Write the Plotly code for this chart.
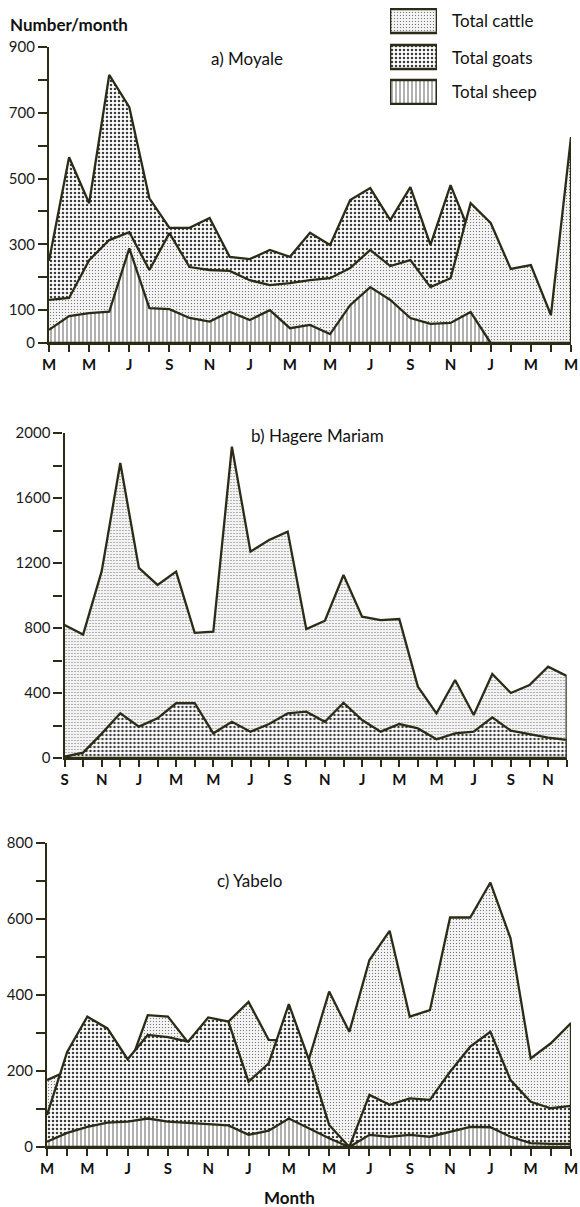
import plotly.graph_objects as go

# ---------------------------------------------------------------- data
# a) Moyale, monthly from March (year 1) to May (year 3)
moyale_ticks = ["M", "M", "J", "S", "N", "J", "M", "M", "J", "S", "N", "J", "M", "M"]
moyale_goats = [250, 565, 425, 815, 717, 440, 350, 350, 380, 262, 255, 283, 262,
                335, 298, 435, 471, 374, 474, 298, 480, 330]
moyale_cattle = [131, 137, 252, 313, 337, 222, 334, 231, 222, 219, 191, 176, 182,
                 191, 197, 228, 283, 234, 252, 170, 197, 425, 365, 225, 237, 85, 626]
moyale_sheep = [40, 82, 91, 95, 288, 106, 103, 76, 65, 95, 70, 100, 45,
                55, 27, 115, 170, 131, 76, 58, 61, 94, 0]

# b) Hagere Mariam, monthly from September (year 1) to December (year 3)
hagere_ticks = ["S", "N", "J", "M", "M", "J", "S", "N", "J", "M", "M", "J", "S", "N"]
hagere_cattle = [818, 760, 1150, 1815, 1170, 1065, 1147, 770, 777, 1916, 1270, 1342,
                 1393, 793, 845, 1126, 870, 849, 855, 439, 275, 480, 265, 517, 400,
                 449, 562, 505]
hagere_goats = [8, 33, 150, 275, 193, 244, 337, 337, 152, 223, 162, 209, 275, 285,
                223, 340, 234, 162, 209, 182, 115, 152, 162, 250, 168, 146, 125, 111]

# c) Yabelo, monthly from March (year 1) to May (year 3)
yabelo_ticks = ["M", "M", "J", "S", "N", "J", "M", "M", "J", "S", "N", "J", "M", "M"]
yabelo_cattle = [176, 200, 250, 260, 200, 347, 343, 275, 290, 330, 382, 282, 280,
                 232, 409, 303, 492, 569, 343, 360, 604, 604, 696, 549, 233, 273, 326]
yabelo_goats = [84, 250, 343, 312, 231, 295, 289, 277, 341, 330, 172, 220, 376,
                229, 58, 0, 137, 111, 128, 124, 198, 264, 303, 176, 119, 102, 108]
yabelo_sheep = [14, 37, 53, 64, 67, 75, 67, 64, 61, 57, 32, 43, 75,
                49, 23, 0, 32, 27, 32, 27, 40, 53, 52, 27, 10, 8, 8]

# y-axis ticks per panel
moyale_yticks = list(range(0, 1000, 100))
moyale_ylabels = ["0", "100", "", "300", "", "500", "", "700", "", "900"]
hagere_yticks = list(range(0, 2200, 200))
hagere_ylabels = ["0", "", "400", "", "800", "", "1200", "", "1600", "", "2000"]
yabelo_yticks = list(range(0, 900, 100))
yabelo_ylabels = ["0", "", "200", "", "400", "", "600", "", "800"]

legend_names = ["Total cattle", "Total goats", "Total sheep"]

# ---------------------------------------------------------------- styling
W, H = 580, 1207
INK = "#2b2b17"
FONT = "Lato, 'Noto Sans', sans-serif"

PATTERNS = {
    "cattle": dict(shape=".", size=3, solidity=0.12, fgcolor="#606060", bgcolor="#f3f3f3"),
    "goats": dict(shape=".", size=4, solidity=0.32, fgcolor="#3c3c3c", bgcolor="#ffffff"),
    "sheep": dict(shape="|", size=4, solidity=0.20, fgcolor="#3a3a3a", bgcolor="#ffffff"),
}


def px_x(x):
    return x / W


def px_y(y):
    return 1 - y / H


def area_trace(values, kind, xa, ya):
    """Closed polygon from the x axis up to the series, filled with its pattern."""
    months = list(range(len(values)))
    return go.Scatter(
        x=months + months[::-1],
        y=list(values) + [0] * len(values),
        mode="lines",
        fill="toself",
        fillcolor="white",
        fillpattern=PATTERNS[kind],
        line=dict(color=INK, width=2.3),
        xaxis=xa, yaxis=ya,
        hoverinfo="skip",
        showlegend=False,
    )


fig = go.Figure()

# panel a: goats behind cattle behind sheep
for vals, kind in [(moyale_goats, "goats"), (moyale_cattle, "cattle"), (moyale_sheep, "sheep")]:
    fig.add_trace(area_trace(vals, kind, "x", "y"))
# panel b: cattle behind goats
for vals, kind in [(hagere_cattle, "cattle"), (hagere_goats, "goats")]:
    fig.add_trace(area_trace(vals, kind, "x2", "y2"))
# panel c: cattle behind goats behind sheep
for vals, kind in [(yabelo_cattle, "cattle"), (yabelo_goats, "goats"), (yabelo_sheep, "sheep")]:
    fig.add_trace(area_trace(vals, kind, "x3", "y3"))

# legend swatches drawn in a small inset axis (units = pixels, y upward)
sw_w, sw_h = 47, 24
row_centres = [21, 57, 92]
for name, kind, cy in zip(legend_names, ["cattle", "goats", "sheep"], row_centres):
    y0 = 105 - cy - sw_h / 2
    fig.add_trace(go.Scatter(
        x=[0, sw_w, sw_w, 0, 0], y=[y0, y0, y0 + sw_h, y0 + sw_h, y0],
        mode="lines", fill="toself", fillcolor="white", fillpattern=PATTERNS[kind],
        line=dict(color=INK, width=2.6), xaxis="x4", yaxis="y4",
        hoverinfo="skip", showlegend=False,
    ))


def month_axis(n_months, labels, left, right):
    vals = list(range(n_months))
    text = []
    for i in vals:
        if i % 2 == 0 and i // 2 < len(labels):
            text.append(f"<b>{labels[i // 2]}</b>")
        else:
            text.append("")
    return dict(
        domain=[px_x(left), px_x(right)], range=[0, n_months - 1],
        tickmode="array", tickvals=vals, ticktext=text,
        ticks="outside", ticklen=7, tickwidth=1.8, tickcolor=INK,
        ticklabeloverflow="allow",
        showline=True, linewidth=2.3, linecolor=INK,
        showgrid=False, zeroline=False, fixedrange=True,
        tickfont=dict(family=FONT, size=15, color="#111111"),
    )


def value_axis(vals, labels, top, bottom, anchor):
    return dict(
        domain=[px_y(bottom), px_y(top)], range=[vals[0], vals[-1]],
        tickmode="array", tickvals=vals, ticktext=labels,
        ticks="outside", ticklen=9, tickwidth=1.8, tickcolor=INK,
        showline=True, linewidth=2.3, linecolor=INK,
        showgrid=False, zeroline=False, fixedrange=True, anchor=anchor,
        tickfont=dict(family=FONT, size=15, color="#1a1a1a"),
    )


fig.update_layout(
    width=W, height=H,
    margin=dict(l=0, r=0, t=0, b=0, autoexpand=False),
    paper_bgcolor="white", plot_bgcolor="white",
    template="none",
    showlegend=False,
    xaxis=dict(month_axis(len(moyale_cattle), moyale_ticks, 49, 571), anchor="y"),
    yaxis=value_axis(moyale_yticks, moyale_ylabels, 47, 343, "x"),
    xaxis2=dict(month_axis(len(hagere_cattle), hagere_ticks, 64.5, 566.7), anchor="y2"),
    yaxis2=value_axis(hagere_yticks, hagere_ylabels, 433, 758, "x2"),
    xaxis3=dict(month_axis(len(yabelo_cattle), yabelo_ticks, 47, 571), anchor="y3"),
    yaxis3=value_axis(yabelo_yticks, yabelo_ylabels, 843, 1147, "x3"),
    xaxis4=dict(domain=[px_x(390), px_x(437)], range=[0, sw_w], visible=False,
                anchor="y4", fixedrange=True),
    yaxis4=dict(domain=[px_y(105), px_y(8)], range=[0, 97], visible=False,
                anchor="x4", fixedrange=True),
)


def note(text, x, y, size=17, anchor="center", bold_text=False):
    fig.add_annotation(
        text=f"<b>{text}</b>" if bold_text else text,
        x=px_x(x), y=px_y(y), xref="paper", yref="paper",
        xanchor=anchor, yanchor="middle", showarrow=False,
        font=dict(family=FONT, size=size, color="#111111"),
    )


note("Number/month", 8, 24, size=17, anchor="left", bold_text=True)
note("a) Moyale", 247, 59)
note("b) Hagere Mariam", 317, 435)
note("c) Yabelo", 250, 880)
note("Month", 289, 1197, size=17, bold_text=True)
for name, cy in zip(legend_names, row_centres):
    note(name, 450, cy, size=17, anchor="left")

fig.write_html("out.html")
